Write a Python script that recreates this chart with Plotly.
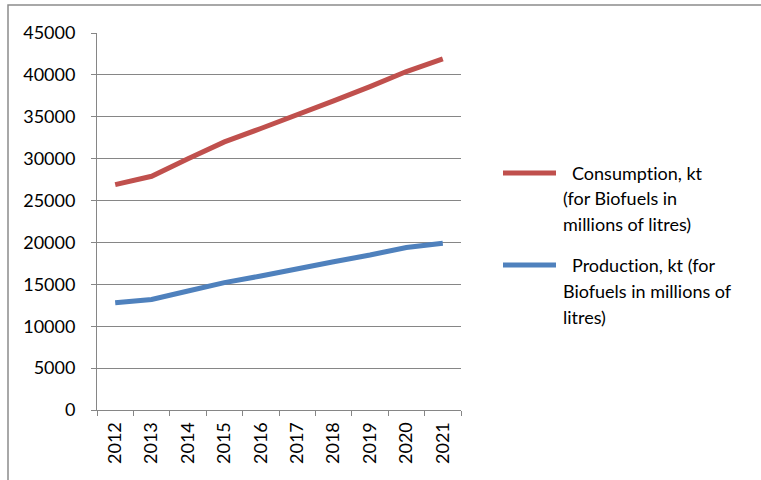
import plotly.graph_objects as go

# Biofuels series, 2012-2021
years = ["2012", "2013", "2014", "2015", "2016", "2017", "2018", "2019", "2020", "2021"]
consumption = [26900, 27900, 30000, 32000, 33600, 35200, 36900, 38600, 40400, 41900]
production = [12800, 13200, 14200, 15200, 16000, 16900, 17700, 18500, 19400, 19900]

# zero-width non-joiner keeps the font from merging "ti" into a ligature
consumption_label = ["Consumpt\u200cion, kt", "(for Biofuels in", "millions of lit\u200cres)"]
production_label = ["Product\u200cion, kt (for", "Biofuels in millions of", "lit\u200cres)"]

RED = "#C0504D"
BLUE = "#4F81BD"
GRID = "#868686"
FONT = "Lato, 'Open Sans', sans-serif"

W, H = 761, 480
L, R, T, B = 97, 461, 33, 410  # plot area in pixels


def px(x):
    return (x - L) / (R - L)


def py(y):
    return (B - y) / (B - T)


fig = go.Figure()
fig.add_trace(go.Scatter(x=years, y=consumption, mode="lines",
                         line=dict(color=RED, width=5), name="Consumption"))
fig.add_trace(go.Scatter(x=years, y=production, mode="lines",
                         line=dict(color=BLUE, width=5), name="Production"))

fig.update_layout(
    width=W, height=H,
    margin=dict(l=L, r=W - R, t=T, b=H - B, pad=0),
    paper_bgcolor="white", plot_bgcolor="white",
    showlegend=False,
    font=dict(family=FONT, size=18, color="#000000"),
)

fig.update_yaxes(
    range=[0, 45000], dtick=5000, tickformat="d",
    showgrid=True, gridcolor=GRID, gridwidth=1,
    showline=True, linecolor=GRID, linewidth=1,
    ticks="outside", ticklen=5, tickcolor=GRID,
    ticklabelstandoff=12, zeroline=False,
)
fig.update_xaxes(
    type="category", range=[-0.5, 9.5],
    showgrid=False, showline=True, linecolor=GRID, linewidth=1,
    ticks="outside", ticklen=5, tickcolor=GRID, tickson="boundaries",
    tickangle=-90, ticklabelstandoff=4,
)

# outer chart frame
fig.add_shape(type="rect", xref="paper", yref="paper",
              x0=px(8), x1=px(800), y0=py(520), y1=py(5),
              line=dict(color="#8c8c8c", width=1.5), layer="below")

# legend drawn at the right of the plot
for color, ly, lines, ys in [
    (RED, 173, consumption_label, [173, 198, 224]),
    (BLUE, 265, production_label, [265, 291, 317]),
]:
    fig.add_shape(type="line", xref="paper", yref="paper",
                  x0=px(503), x1=px(556), y0=py(ly), y1=py(ly),
                  line=dict(color=color, width=5))
    for i, (txt, yy) in enumerate(zip(lines, ys)):
        fig.add_annotation(xref="paper", yref="paper",
                           x=px(570 if i == 0 else 561), y=py(yy),
                           text=txt, showarrow=False,
                           xanchor="left", yanchor="middle",
                           font=dict(family=FONT, size=18, color="#000000"))

fig.write_html("out.html")
